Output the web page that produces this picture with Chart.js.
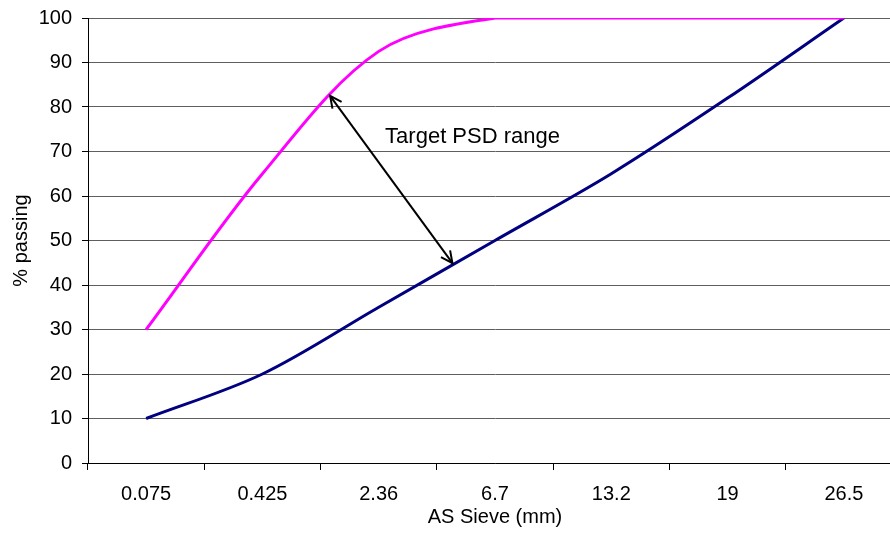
<!DOCTYPE html>
<html>
<head>
<meta charset="utf-8">
<script src="https://cdn.jsdelivr.net/npm/chart.js@4.4.1/dist/chart.umd.min.js"></script>
<style>
html, body { margin: 0; padding: 0; background: #fff; overflow: hidden; }
#wrap { width: 910px; height: 538px; }
</style>
</head>
<body>
<div id="wrap"><canvas id="psd_grafik"></canvas></div>
<script>
// data
const sieveSizes = ['0.075', '0.425', '2.36', '6.7', '13.2', '19', '26.5'];
const upperLimit = [30, 65, 92.5, 100, 100, 100, 100];
const lowerLimit = [10, 20, 35, 50, 65, 82, 100];
const arrowText = 'Target PSD range';

// arrow ends and label, in (category index, % passing)
const arrowFrom = [1.582, 82.5];
const arrowTo = [2.634, 44.9];
const labelAt = [2.055, 72];

const fontFam = "'Liberation Sans', Arial, sans-serif";

const rangeArrow = {
  id: 'rangeArrow',
  afterDatasetsDraw(chart) {
    const ctx = chart.ctx;
    const xs = chart.scales.x, ys = chart.scales.y;
    const x1 = xs.getPixelForValue(arrowFrom[0]), y1 = ys.getPixelForValue(arrowFrom[1]);
    const x2 = xs.getPixelForValue(arrowTo[0]), y2 = ys.getPixelForValue(arrowTo[1]);
    ctx.save();
    ctx.strokeStyle = '#000';
    ctx.lineWidth = 2;
    ctx.beginPath();
    ctx.moveTo(x1, y1);
    ctx.lineTo(x2, y2);
    ctx.stroke();
    const head = (tx, ty, fx, fy) => {
      const a = Math.atan2(ty - fy, tx - fx);
      const len = 13, spread = 0.45;
      ctx.beginPath();
      ctx.moveTo(tx - len * Math.cos(a - spread), ty - len * Math.sin(a - spread));
      ctx.lineTo(tx, ty);
      ctx.lineTo(tx - len * Math.cos(a + spread), ty - len * Math.sin(a + spread));
      ctx.stroke();
    };
    head(x1, y1, x2, y2);
    head(x2, y2, x1, y1);
    ctx.fillStyle = '#000';
    ctx.font = '22px ' + fontFam;
    ctx.textAlign = 'left';
    ctx.textBaseline = 'alphabetic';
    ctx.fillText(arrowText, xs.getPixelForValue(labelAt[0]), ys.getPixelForValue(labelAt[1]));
    ctx.restore();
  }
};

new Chart(document.getElementById('psd_grafik'), {
  type: 'line',
  data: {
    labels: sieveSizes,
    datasets: [{
      label: 'Upper',
      data: upperLimit,
      borderColor: '#ff00ff',
      borderWidth: 3,
      tension: 0.33,
      pointRadius: 0,
      fill: false
    }, {
      label: 'Lower',
      data: lowerLimit,
      borderColor: '#000080',
      borderWidth: 3,
      tension: 0.33,
      pointRadius: 0,
      fill: false
    }]
  },
  options: {
    responsive: true,
    maintainAspectRatio: false,
    animation: false,
    devicePixelRatio: 1,
    layout: { padding: { top: 18, right: 8, left: 0, bottom: 0 } },
    plugins: {
      legend: { display: false },
      tooltip: { enabled: false }
    },
    scales: {
      x: {
        offset: true,
        afterFit(scale) { scale.height = 75; scale.paddingLeft = 0; scale.paddingRight = 0; },
        grid: {
          offset: true,
          drawOnChartArea: false,
          drawTicks: true,
          tickLength: 7,
          color: '#000'
        },
        border: { display: true, color: '#000', width: 1 },
        ticks: { color: '#000', padding: 12, maxRotation: 0, font: { family: fontFam, size: 20 } },
        title: {
          display: true,
          text: 'AS Sieve (mm)',
          color: '#000',
          padding: { top: 0, bottom: 9 },
          font: { family: fontFam, size: 20 }
        }
      },
      y: {
        min: 0,
        max: 100,
        afterFit(scale) { scale.width = 88; scale.paddingTop = 0; scale.paddingBottom = 0; },
        ticks: { stepSize: 10, color: '#000', padding: 10, font: { family: fontFam, size: 20 } },
        grid: { color: '#5e5e5e', tickColor: '#000', tickLength: 6, lineWidth: 1 },
        border: { display: true, color: '#000', width: 1 },
        title: {
          display: true,
          text: '% passing',
          color: '#000',
          padding: { top: 9, bottom: 0 },
          font: { family: fontFam, size: 20 }
        }
      }
    }
  },
  plugins: [rangeArrow]
});
</script>
</body>
</html>
